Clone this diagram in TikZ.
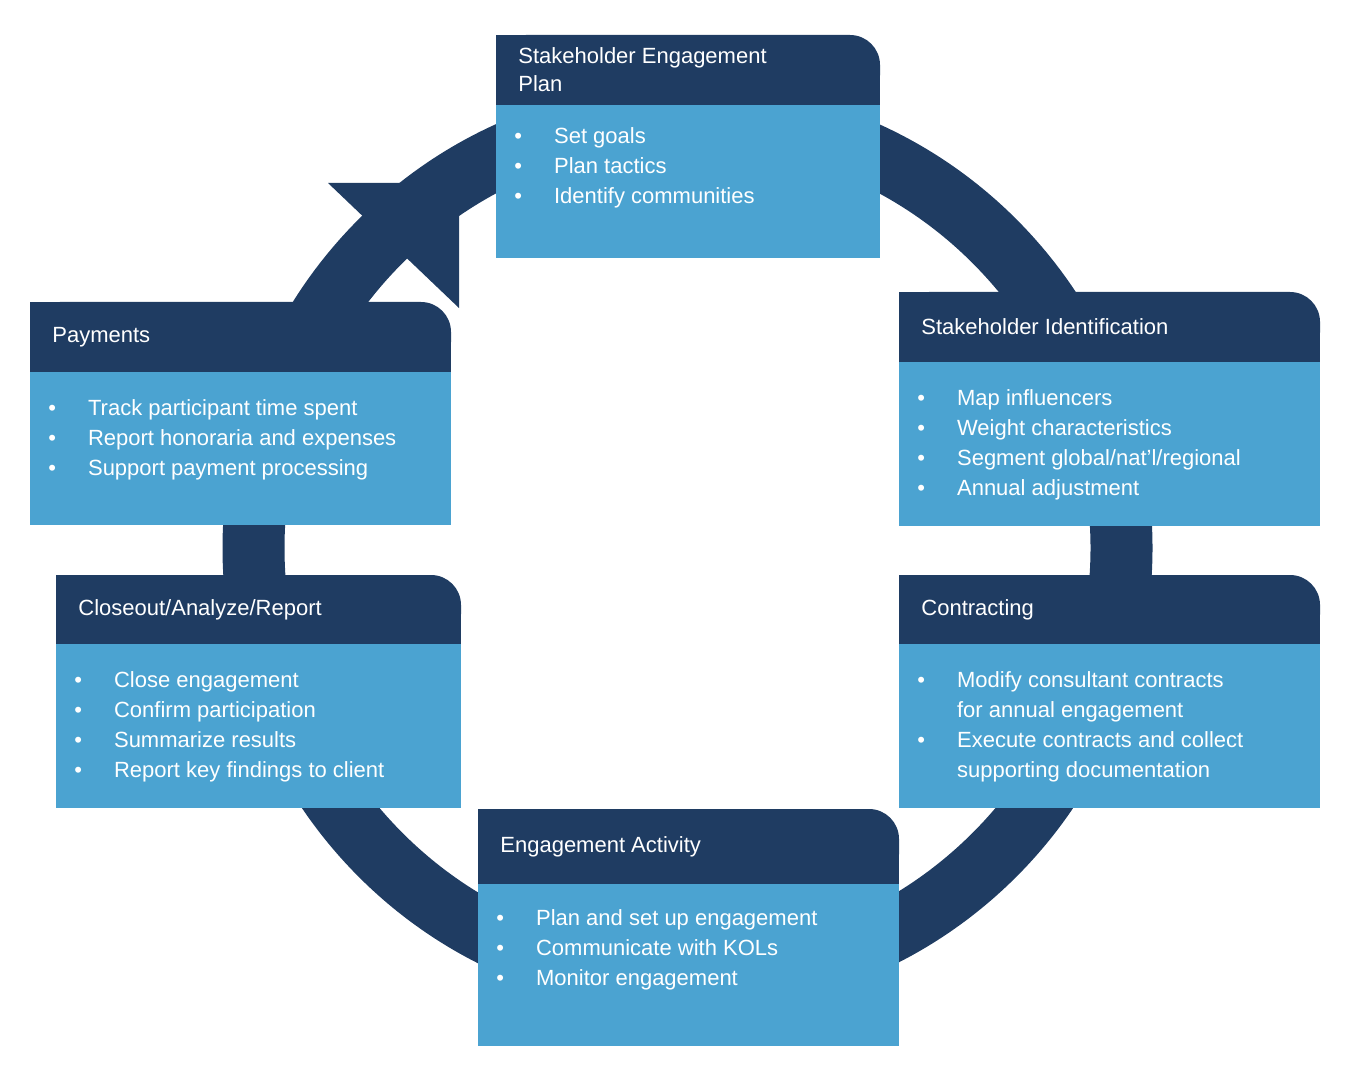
\documentclass[tikz,border=0pt]{standalone}
\usepackage{fontspec}
\setmainfont{Liberation Sans}
\definecolor{hdr}{HTML}{1F3C62}
\definecolor{bdy}{HTML}{4BA3D1}
\tikzset{
  ttl/.style={anchor=west,text=white,font=\fontsize{11}{14}\selectfont,inner sep=0pt,align=left},
  lst/.style={anchor=north west,text=white,font=\fontsize{11}{15}\selectfont,inner sep=0pt,align=left},
}
\newcommand{\stg}[9]{% name x ytop w hh bh title items
  \fill[hdr,rounded corners=15pt] (#2,#3) rectangle ++(#4,#5);
  \fill[hdr] (#2,#3) rectangle ++(#4-40,#5);
  \fill[hdr] (#2,#3+35) rectangle ++(#4,#5-35);
  \fill[bdy] (#2,#3+#5) rectangle ++(#4,#6);
  \node[ttl] (#1t) at (#2+22,#3+#5/2) {#7};
  \node[lst] (#1b) at (#2+18,#3+#5+#8) {\begin{tabular}{@{}l@{\hspace{16pt}}l@{}}#9\end{tabular}};
}
\begin{document}
\begin{tikzpicture}[x=0.5pt,y=-0.5pt]
\useasboundingbox (0,0) rectangle (1368,1080);
% ring
\draw[hdr,line width=31pt] (687.5,548) ++(134:434 and -434) arc[start angle=134,end angle=-260,x radius=434,y radius=-434];
\fill[hdr] (328,183) -- (459,183) -- (459,308) -- cycle;
\stg{a}{496}{35}{384}{70}{153}{Stakeholder Engagement\\Plan}{17}{\textbullet & Set goals\\ \textbullet & Plan tactics\\ \textbullet & Identify communities}
\stg{b}{899}{292}{421}{70}{164}{Stakeholder Identification}{22}{\textbullet & Map influencers\\ \textbullet & Weight characteristics\\ \textbullet & Segment global/nat'l/regional\\ \textbullet & Annual adjustment}
\stg{c}{899}{575}{421}{69}{164}{Contracting}{22}{\textbullet & Modify consultant contracts\\ & for annual engagement\\ \textbullet & Execute contracts and collect\\ & supporting documentation}
\stg{d}{478}{809}{421}{75}{162}{Engagement Activity}{20}{\textbullet & Plan and set up engagement\\ \textbullet & Communicate with KOLs\\ \textbullet & Monitor engagement}
\stg{e}{56}{575}{405}{69}{164}{Closeout/Analyze/Report}{22}{\textbullet & Close engagement\\ \textbullet & Confirm participation\\ \textbullet & Summarize results\\ \textbullet & Report key findings to client}
\stg{f}{30}{302}{421}{70}{153}{Payments}{22}{\textbullet & Track participant time spent\\ \textbullet & Report honoraria and expenses\\ \textbullet & Support payment processing}
\end{tikzpicture}
\end{document}
